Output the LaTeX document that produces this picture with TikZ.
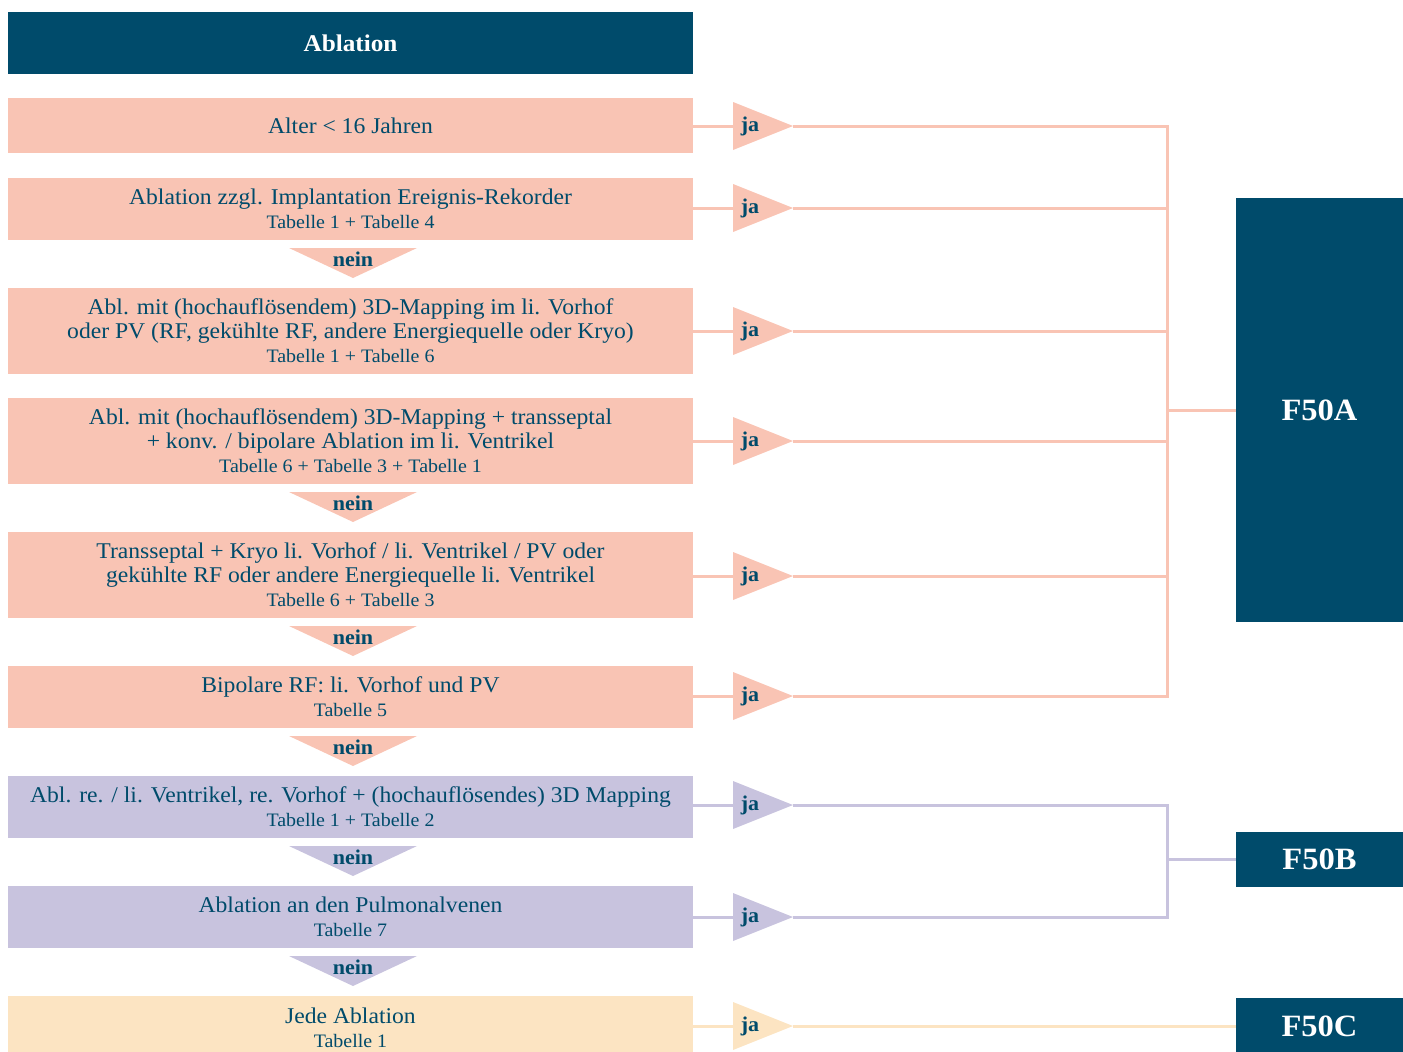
\documentclass[tikz,border=0pt]{standalone}
\usepackage{fontspec}
\setmainfont[FakeStretch=1.05]{Liberation Serif}
\definecolor{dk}{HTML}{004B6B}
\definecolor{pk}{HTML}{F9C4B4}
\definecolor{pu}{HTML}{C8C3DE}
\definecolor{ye}{HTML}{FCE4C2}
\newcommand{\tabf}{\fontsize{19}{22}\selectfont}
\begin{document}
\begin{tikzpicture}[x=1pt,y=-1pt,
  box/.style={minimum width=685pt, inner sep=0pt, text=dk, align=center,
    font=\fontsize{22.5}{24}\selectfont},
  res/.style={fill=dk, text=white, minimum width=167pt, inner sep=0pt,
    font=\fontsize{31}{34}\selectfont\bfseries},
  lbl/.style={text=dk, inner sep=0pt, font=\fontsize{21}{24}\selectfont\bfseries},
  conn/.style={line width=3pt}
]
\useasboundingbox (0,0) rectangle (1403,1052);

% header
\node[fill=dk, text=white, minimum width=685pt, minimum height=62pt, inner sep=0pt,
  font=\fontsize{24}{28}\selectfont\bfseries] (hd) at (350.5,43) {Ablation};

% condition boxes
\node[box, fill=pk, minimum height=55pt] (b1) at (350.5,125.5) {Alter < 16 Jahren};
\node[box, fill=pk, minimum height=62pt] (b2) at (350.5,208.5) {Ablation zzgl. Implantation Ereignis-Rekorder\\[0pt]{\tabf Tabelle 1 + Tabelle 4}};
\node[box, fill=pk, minimum height=86pt] (b3) at (350.5,330.5) {Abl. mit (hochauflösendem) 3D-Mapping im li. Vorhof\\oder PV (RF, gekühlte RF, andere Energiequelle oder Kryo)\\[0pt]{\tabf Tabelle 1 + Tabelle 6}};
\node[box, fill=pk, minimum height=86pt] (b4) at (350.5,440.5) {Abl. mit (hochauflösendem) 3D-Mapping + transseptal\\+ konv. / bipolare Ablation im li. Ventrikel\\[0pt]{\tabf Tabelle 6 + Tabelle 3 + Tabelle 1}};
\node[box, fill=pk, minimum height=86pt] (b5) at (350.5,574.5) {Transseptal + Kryo li. Vorhof / li. Ventrikel / PV oder\\gekühlte RF oder andere Energiequelle li. Ventrikel\\[0pt]{\tabf Tabelle 6 + Tabelle 3}};
\node[box, fill=pk, minimum height=62pt] (b6) at (350.5,696.5) {Bipolare RF: li. Vorhof und PV\\[0pt]{\tabf Tabelle 5}};
\node[box, fill=pu, minimum height=62pt] (b7) at (350.5,806.5) {Abl. re. / li. Ventrikel, re. Vorhof + (hochauflösendes) 3D Mapping\\[0pt]{\tabf Tabelle 1 + Tabelle 2}};
\node[box, fill=pu, minimum height=62pt] (b8) at (350.5,916.5) {Ablation an den Pulmonalvenen\\[0pt]{\tabf Tabelle 7}};
\node[box, fill=ye, minimum height=65pt] (b9) at (350.5,1028) {Jede Ablation\\[0pt]{\tabf Tabelle 1}};

% nein triangles
\foreach \t/\c/\n in {248/pk/n1, 492/pk/n2, 626/pk/n3, 736/pk/n4, 846/pu/n5, 956/pu/n6}{
  \fill[\c] (289,\t) -- (417,\t) -- (353,\t+30) -- cycle;
  \node[lbl] (\n) at (353,\t+11) {nein};
}

% result boxes
\node[res, minimum height=424pt] (F50A) at (1319.5,410) {F50A};
\node[res, minimum height=55pt] (F50B) at (1319.5,859) {F50B};
\node[res, minimum height=56pt] (F50C) at (1319.5,1026) {F50C};

\coordinate (busA) at (1167,410);
\coordinate (busB) at (1167,859);

% ja triangles and connectors
\foreach \y/\c/\b/\j/\bus/\F in {126/pk/b1/j1/busA/F50A, 208/pk/b2/j2/busA/F50A, 331/pk/b3/j3/busA/F50A,
  441/pk/b4/j4/busA/F50A, 576/pk/b5/j5/busA/F50A, 696/pk/b6/j6/busA/F50A,
  805/pu/b7/j7/busB/F50B, 917/pu/b8/j8/busB/F50B}{
  \coordinate (\j L) at (733,\y);
  \coordinate (\j R) at (793,\y);
  \draw[conn, \c] (\j L -| \b.east) -- (\j L);
  \draw[conn, \c] (\j R) -| (\bus) -- (\F.west);
  \fill[\c] (733,\y-24) -- (\j R) -- (733,\y+24) -- cycle;
  \node[lbl] (\j) at (750,\y) {ja};
}
\coordinate (j9L) at (733,1026);
\coordinate (j9R) at (793,1026);
\draw[conn, ye] (j9L -| b9.east) -- (j9L);
\draw[conn, ye] (j9R) -- (F50C.west |- j9R);
\fill[ye] (733,1002) -- (j9R) -- (733,1050) -- cycle;
\node[lbl] (j9) at (750,1026) {ja};
\end{tikzpicture}
\end{document}
